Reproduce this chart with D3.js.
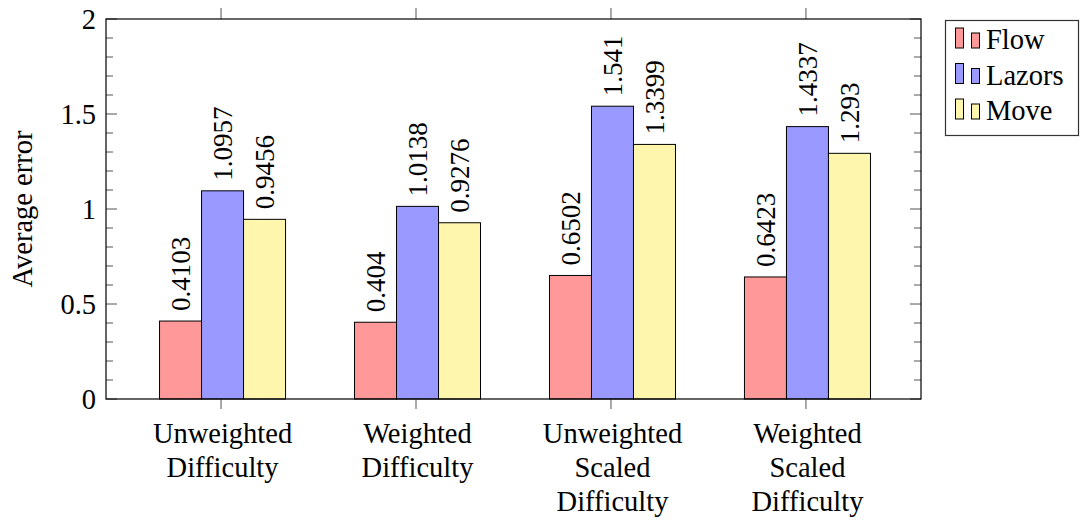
<!DOCTYPE html>
<html>
<head>
<meta charset="utf-8">
<script src="https://cdn.jsdelivr.net/npm/d3@7"></script>
<style>
  body { margin: 0; background: #fff; }
  svg { display: block; }
  svg text { font-family: "Liberation Serif", "DejaVu Serif", "Times New Roman", serif; fill: #000; }
</style>
</head>
<body>
<script>
const categories = [['Unweighted', 'Difficulty'], ['Weighted', 'Difficulty'], ['Unweighted', 'Scaled', 'Difficulty'], ['Weighted', 'Scaled', 'Difficulty']]
const seriesNames = ['Flow', 'Lazors', 'Move']
const flow = [0.4103, 0.404, 0.6502, 0.6423]
const lazors = [1.0957, 1.0138, 1.541, 1.4337]
const move = [0.9456, 0.9276, 1.3399, 1.293]
const yTicks = [0, 0.5, 1, 1.5, 2]
const colors = ['#ff9999', '#9999ff', '#fff6ad']

let width = 1080
let height = 523
let plotLeft = 106, plotRight = 921, plotTop = 19, plotBottom = 399
let fontSize = 27
let wordSize = 28.5
let serif = '"Liberation Serif", "DejaVu Serif", "Times New Roman", serif'

let series = [flow, lazors, move]

let svg = d3.select('body').append('svg').attr('width', width).attr('height', height)
    .attr('font-family', serif)

let xScale = d3.scalePoint()
    .domain(d3.range(categories.length))
    .range([plotLeft, plotRight])
    .padding(0.59)

let yScale = d3.scaleLinear().domain([0, 2]).range([plotBottom, plotTop])

let barW = 42
let barShift = 1.5

// bars
series.forEach((vals, s) => {
    let g = svg.append('g')
    g.selectAll('rect')
     .data(vals)
     .enter()
     .append('rect')
     .attr('x', (d, i) => xScale(i) + barShift + (s - 1.5) * barW)
     .attr('y', d => yScale(d))
     .attr('width', barW)
     .attr('height', d => yScale(0) - yScale(d))
     .attr('fill', colors[s])
     .attr('stroke', '#000')
     .attr('stroke-width', 1)

    // value labels, rotated
    g.selectAll('text')
     .data(vals)
     .enter()
     .append('text')
     .attr('transform', (d, i) => 'translate(' + (xScale(i) + barShift + (s - 1) * barW) + ',' + (yScale(d) - 10) + ') rotate(-90)')
     .attr('dy', '0.34em')
     .attr('font-size', fontSize)
     .attr('font-family', serif)
     .text(d => d)
})

// y ticks inside, both sides
let minor = d3.range(0, 2.0001, 0.1)
let isMajor = d => Math.abs(d * 2 - Math.round(d * 2)) < 1e-6
svg.append('g').selectAll('line')
   .data(minor)
   .enter()
   .append('line')
   .attr('x1', plotLeft)
   .attr('x2', d => plotLeft + (isMajor(d) ? 11 : 7))
   .attr('y1', d => yScale(d))
   .attr('y2', d => yScale(d))
   .attr('stroke', '#555')
svg.append('g').selectAll('line')
   .data(minor)
   .enter()
   .append('line')
   .attr('x1', plotRight)
   .attr('x2', d => plotRight - (isMajor(d) ? 11 : 7))
   .attr('y1', d => yScale(d))
   .attr('y2', d => yScale(d))
   .attr('stroke', '#555')

let yAxis = d3.axisLeft(yScale).tickValues(yTicks).tickSize(0).tickPadding(10).tickFormat(d => d)
let yg = svg.append('g').attr('transform', 'translate(' + plotLeft + ',0)').call(yAxis)
yg.select('.domain').remove()
yg.attr('font-family', serif).attr('font-size', wordSize)
yg.selectAll('text')
  .attr('font-size', wordSize)
  .attr('font-family', serif)
  .attr('fill', '#000')

// x ticks outside, top and bottom
let xg = svg.append('g')
xg.selectAll('line.b')
  .data(d3.range(categories.length))
  .enter()
  .append('line')
  .attr('class', 'b')
  .attr('x1', d => xScale(d)).attr('x2', d => xScale(d))
  .attr('y1', plotBottom).attr('y2', plotBottom + 10)
  .attr('stroke', '#555')
xg.selectAll('line.t')
  .data(d3.range(categories.length))
  .enter()
  .append('line')
  .attr('class', 't')
  .attr('x1', d => xScale(d)).attr('x2', d => xScale(d))
  .attr('y1', plotTop).attr('y2', plotTop - 11)
  .attr('stroke', '#555')

// category labels
categories.forEach((lines, i) => {
    let t = svg.append('text')
       .attr('x', xScale(i) + barShift)
       .attr('y', 443)
       .attr('text-anchor', 'middle')
       .attr('font-size', wordSize)
       .attr('font-family', serif)
    lines.forEach((ln, k) => {
        t.append('tspan').attr('x', xScale(i) + barShift).attr('dy', k == 0 ? 0 : 34).text(ln)
    })
})

// frame
svg.append('rect')
   .attr('x', plotLeft).attr('y', plotTop)
   .attr('width', plotRight - plotLeft).attr('height', plotBottom - plotTop)
   .attr('fill', 'none').attr('stroke', '#000').attr('stroke-width', 1.2)

// y title
svg.append('text')
   .attr('transform', 'translate(32,' + ((plotTop + plotBottom) / 2) + ') rotate(-90)')
   .attr('text-anchor', 'middle')
   .attr('font-size', wordSize)
   .attr('font-family', serif)
   .text('Average error')

// legend
let lg = svg.append('g')
lg.append('rect')
  .attr('x', 945.5).attr('y', 20.5).attr('width', 133).attr('height', 115)
  .attr('fill', '#fff').attr('stroke', '#333').attr('stroke-width', 1.2)
seriesNames.forEach((name, s) => {
    let base = 49 + s * 35.5
    lg.append('rect').attr('x', 955.5).attr('y', base - 21).attr('width', 8).attr('height', 20)
      .attr('fill', colors[s]).attr('stroke', '#000').attr('stroke-width', 1)
    lg.append('rect').attr('x', 971.5).attr('y', base - 16).attr('width', 8).attr('height', 15)
      .attr('fill', colors[s]).attr('stroke', '#000').attr('stroke-width', 1)
    lg.append('text').attr('x', 986).attr('y', base).attr('font-size', wordSize)
      .attr('font-family', serif).text(name)
})
</script>
</body>
</html>
